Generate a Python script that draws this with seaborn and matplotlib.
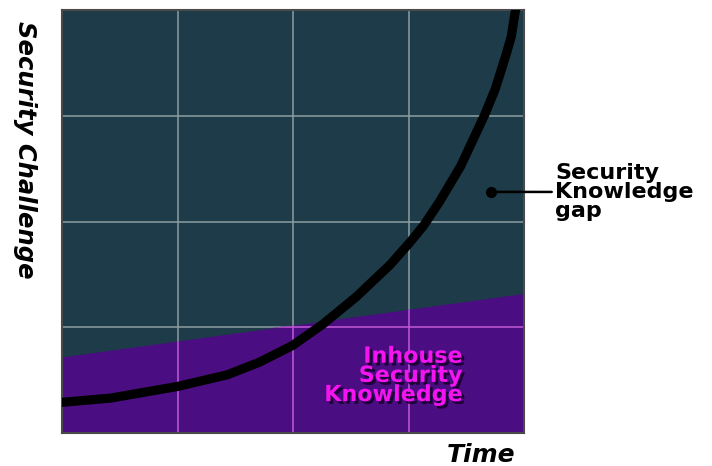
import matplotlib.pyplot as plt
import matplotlib.patheffects as pe
from matplotlib.patches import Polygon
import seaborn as sns

# curve of security challenge over time (axes 0..4)
time_pts = [0.0, 0.42, 1.00, 1.43, 1.71, 2.00, 2.26, 2.55, 2.84, 3.01, 3.13,
            3.27, 3.45, 3.66, 3.75, 3.84, 3.89, 3.92, 3.96]
challenge = [0.29, 0.33, 0.44, 0.55, 0.67, 0.83, 1.03, 1.29, 1.59, 1.80, 1.96,
             2.19, 2.52, 3.01, 3.25, 3.56, 3.75, 3.96, 4.19]

# inhouse knowledge band (straight top edge)
inhouse_x = [0, 4]
inhouse_y = [0.72, 1.32]

grid_ticks = [1, 2, 3]
gap_point = (3.71, 2.28)

sns.set_style("white")
plt.rcParams['font.family'] = ['DejaVu Sans']
plt.rcParams['text.color'] = 'black'

fig = plt.figure(figsize=(7.12, 4.66), dpi=100)
ax = fig.add_axes([62 / 712, 33 / 466, 462 / 712, 423 / 466])
ax.set_facecolor('#1d3b48')
ax.set_xlim(0, 4)
ax.set_ylim(0, 4)

ax.fill_between(inhouse_x, 0, inhouse_y, color='#4b0e82', lw=0, zorder=1)

# grid is grey over the teal part and pinkish over the purple part
upper = Polygon([(0, 4), (4, 4), (4, inhouse_y[1]), (0, inhouse_y[0])], transform=ax.transData)
lower = Polygon([(0, 0), (4, 0), (4, inhouse_y[1]), (0, inhouse_y[0])], transform=ax.transData)
for t in grid_ticks:
    for clip, col in ((upper, '#8d9ea2'), (lower, '#c25ad6')):
        lv = ax.axvline(t, color=col, lw=1.1, zorder=2)
        lv.set_clip_path(clip)
        lh = ax.axhline(t, color=col, lw=1.1, zorder=2)
        lh.set_clip_path(clip)

sns.lineplot(x=time_pts, y=challenge, color='black', lw=6.6, ax=ax, zorder=3, sort=False,
             solid_joinstyle='round', solid_capstyle='round')

ax.set_xticks([])
ax.set_yticks([])
for s in ax.spines.values():
    s.set_color('#4a4a4a')
    s.set_linewidth(1.5)

# labels
fig.text(25 / 712, 1 - 150 / 466, 'Security Challenge', rotation=-90, ha='center', va='center',
         fontsize=17.5, fontweight='bold', style='italic', color='black')
fig.text(515 / 712, 1 - 455 / 466, 'Time', ha='right', va='center',
         fontsize=18, fontweight='bold', style='italic', color='black')

ax.annotate('Security\nKnowledge\ngap', xy=gap_point, xytext=(555 / 712, 1 - 192 / 466),
            textcoords='figure fraction', ha='left', va='center', fontsize=16,
            fontweight='bold', linespacing=0.95, annotation_clip=False, color='black',
            arrowprops=dict(arrowstyle='-', color='black', lw=1.8, shrinkA=0, shrinkB=0))
ax.plot(*gap_point, 'o', color='black', ms=7, zorder=4)

ax.text(3.47, 0.54, 'Inhouse\nSecurity\nKnowledge', ha='right', va='center', ma='right',
        fontsize=16, fontweight='bold', color='#f414f0', linespacing=0.95, zorder=4,
        path_effects=[pe.withSimplePatchShadow(offset=(2, -2), shadow_rgbFace='#14002a', alpha=0.85)])

fig.savefig('out.png', dpi=100)
